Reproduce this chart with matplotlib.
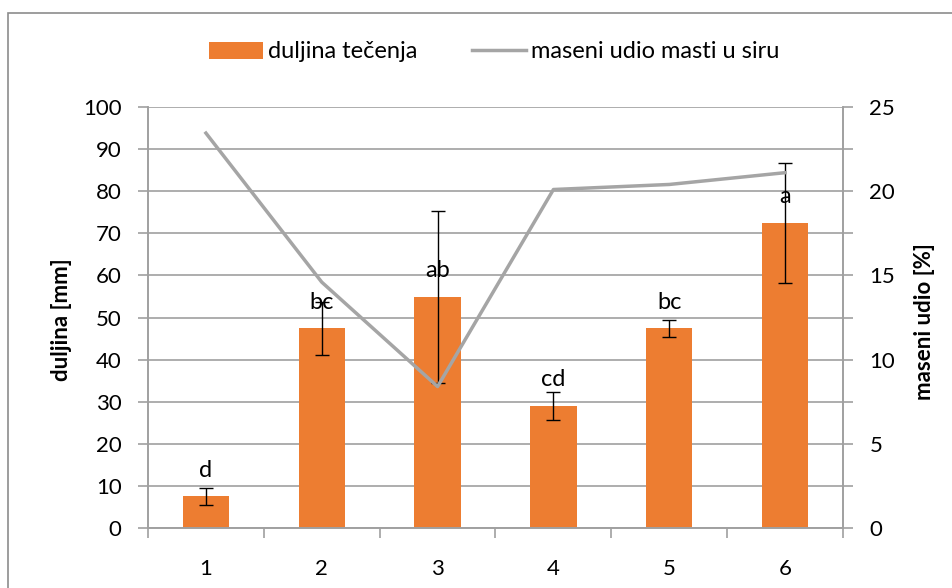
import matplotlib
matplotlib.use("Agg")
import matplotlib.pyplot as plt
from matplotlib.patches import Rectangle, Patch
from matplotlib.lines import Line2D
from matplotlib.ticker import MultipleLocator

plt.rcParams['font.family'] = ['Lato', 'DejaVu Sans']

# podaci
uzorci = ['1', '2', '3', '4', '5', '6']
duljina = [7.5, 47.4, 54.9, 29.0, 47.4, 72.4]
duljina_sd = [2.0, 6.2, 20.5, 3.3, 2.0, 14.3]
slova = ['d', 'bc', 'ab', 'cd', 'bc', 'a']
mast = [23.45, 14.6, 8.4, 20.1, 20.4, 21.1]

narancasta = '#ed7d31'
siva = '#a5a5a5'
os_boja = '#a0a0a0'
fs = 16

fig = plt.figure(figsize=(9.53, 5.88), dpi=100)
ax = fig.add_axes([148/953, 1-528/588, (843-148)/953, (528-107)/588])
ax2 = ax.twinx()

x = list(range(1, len(uzorci)+1))
ax.bar(x, duljina, width=0.4, color=narancasta, zorder=2)
ax.errorbar(x, duljina, yerr=duljina_sd, fmt='none', ecolor='black',
            elinewidth=1.0, capsize=5, capthick=1.0, zorder=3)
for xi, v, s in zip(x, duljina, slova):
    ax.annotate(s, (xi, v), xytext=(0, 19), textcoords='offset points',
                ha='center', va='center', fontsize=17, zorder=4)

ax2.plot(x, mast, color=siva, lw=2.5, zorder=5)

ax.set_xlim(0.5, 6.5)
ax.set_ylim(0, 100)
ax2.set_ylim(0, 25)
ax.yaxis.set_major_locator(MultipleLocator(10))
ax2.yaxis.set_major_locator(MultipleLocator(5))
ax2.yaxis.set_minor_locator(MultipleLocator(2.5))
ax.grid(axis='y', color=os_boja, lw=1.2, zorder=0)
ax.set_axisbelow(True)

ax.set_xticks(x)
ax.set_xticklabels(uzorci)
ax.set_xticks([i + 0.5 for i in range(0, 7)], minor=True)
ax.tick_params(axis='x', which='major', length=0, pad=22, labelsize=fs)
ax.tick_params(axis='x', which='minor', length=7, width=1.2, color=os_boja, direction='out')
ax.tick_params(axis='y', length=7, width=1.2, color=os_boja, labelsize=fs, pad=12)
ax2.tick_params(axis='y', which='both', length=7, width=1.2, color=os_boja, labelsize=fs, pad=12)

for a in (ax, ax2):
    a.spines['top'].set_visible(False)
    for k in ('left', 'right', 'bottom'):
        a.spines[k].set_color(os_boja)
        a.spines[k].set_linewidth(1.2)

# naslovi osi
fig.text(62/953, 1-320/588, 'duljina [mm]', rotation=90, ha='center', va='center',
         fontsize=fs, fontweight='bold')
fig.text(925/953, 1-322/588, 'maseni udio [%]', rotation=90, ha='center', va='center',
         fontsize=fs, fontweight='bold')

handles = [Patch(facecolor=narancasta, edgecolor='none'),
           Line2D([0], [0], color=siva, lw=2.5)]
fig.legend(handles, ['duljina tečenja', 'maseni udio masti u siru'],
           loc='center', bbox_to_anchor=(494/953, 1-52/588), ncol=2, frameon=False,
           fontsize=17, handlelength=2.3, handletextpad=0.2, columnspacing=2.3)

fig.patches.append(Rectangle((8/953, -0.1), 1.0, 1-13/588+0.1, transform=fig.transFigure,
                             fill=False, edgecolor='#8c8c8c', lw=1.2))

fig.savefig('out.png', dpi=100)
